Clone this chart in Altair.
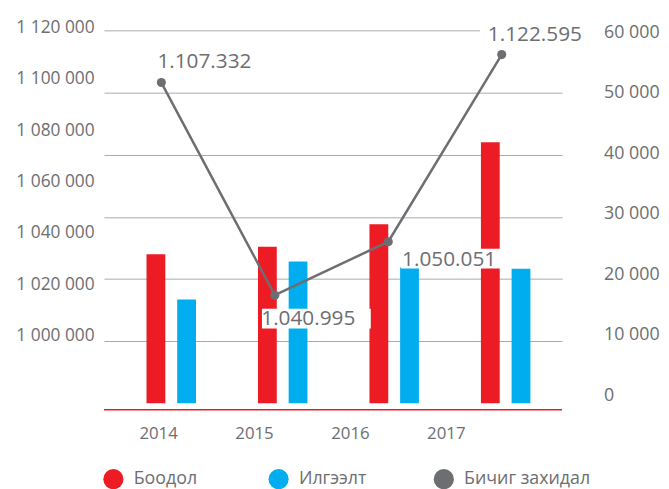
import altair as alt
import pandas as pd

# ---- data ----
years = ["2014", "2015", "2016", "2017"]
series_names = ["Боодол", "Илгээлт", "Бичиг захидал"]
boodol = [24000, 25200, 28800, 42000]          # red bars (right axis)
ilgeelt = [16700, 22800, 21850, 21650]         # blue bars (right axis)
bichig_values = [1107332, 1040995, 1050051, 1122595]   # labels of the grey line
bichig_height = [51600, 17400, 26000, 56100]   # height of the grey line as read on the right axis
left_ticks = [1000000, 1020000, 1040000, 1060000, 1080000, 1100000, 1120000]
right_ticks = [0, 10000, 20000, 30000, 40000, 50000, 60000]

RED, BLUE, GRAY = "#ed1c24", "#00aeef", "#6d6e71"
TEXT = "#6d6e71"
GRID = "#a7a9ac"
FONT = "Open Sans"

# label placement (style): text dx, text dy, white box xOffset, box yOffset, box width
LABEL_STYLE = {
    "2014": (-4, -21, 50, -21, 110),
    "2015": (-13.7, 24.3, 42, 23.8, 110),
    "2016": (14, 18.4, 67, 17, 108),
    "2017": (-14, -19.5, 33, -20, 110),
}

bars_df = pd.DataFrame({
    "year": years * 2,
    "series": [series_names[0]] * 4 + [series_names[1]] * 4,
    "value": boodol + ilgeelt,
})
line_df = pd.DataFrame({
    "year": years,
    "series": series_names[2],
    "height": bichig_height,
    "value": bichig_values,
})
left_df = pd.DataFrame({"v": left_ticks})
right_df = pd.DataFrame({"v": right_ticks})
year_df = pd.DataFrame({"year": years})

Y_DOMAIN = [0, 60000]

color = alt.Color(
    "series:N",
    scale=alt.Scale(domain=series_names, range=[RED, BLUE, GRAY]),
    legend=alt.Legend(
        title=None, orient="none", legendX=-1, legendY=443, direction="horizontal",
        symbolType="circle", symbolSize=415, symbolStrokeWidth=0, symbolOpacity=1,
        labelFont=FONT, labelFontSize=18, labelColor=TEXT, labelOffset=10,
        columnPadding=8, gridAlign="all", padding=0,
    ),
)


def xp(rng):
    return alt.X("year:N", scale=alt.Scale(type="point", domain=years, range=rng, padding=0), axis=None)


def yq(field, axis=None):
    return alt.Y(field, scale=alt.Scale(domain=Y_DOMAIN, nice=False), axis=axis)


bar_x = xp([68, 406])
line_x = xp([58, 402])

grid_axis = alt.Axis(orient="left", values=right_ticks[1:], grid=True, gridColor=GRID,
                     gridWidth=1, labels=False, ticks=False, domain=False, title=None)

# grid lines (no x encoding so they span the whole plot) + red base line
grid_and_base = alt.Chart(pd.DataFrame({"v": [0]})).mark_rule(
    color=RED, strokeWidth=1.5, yOffset=6.5
).encode(y=yq("v:Q", grid_axis))

bars_red = alt.Chart(bars_df).transform_filter(
    alt.datum.series == series_names[0]
).mark_bar(width=19, xOffset=-15.5).encode(
    x=bar_x, y=yq("value:Q"), color=color
)
bars_blue = alt.Chart(bars_df).transform_filter(
    alt.datum.series == series_names[1]
).mark_bar(width=19, xOffset=15.5).encode(
    x=bar_x, y=yq("value:Q"), color=color
)

line_base = alt.Chart(line_df).transform_calculate(
    label="replace(format(datum.value, ','), regexp(',', 'g'), '.')"
)

boxes, texts = [], []
for yr, (tdx, tdy, bx, by, bw) in LABEL_STYLE.items():
    sub = line_base.transform_filter(alt.datum.year == yr)
    boxes.append(sub.mark_rect(color="white", width=bw, height=20, xOffset=bx, yOffset=by)
                 .encode(x=line_x, y=yq("height:Q")))
    texts.append(sub.mark_text(align="left", baseline="middle", dx=tdx, dy=tdy,
                               font=FONT, fontSize=21, color=TEXT)
                 .encode(x=line_x, y=yq("height:Q"), text="label:N"))

line = line_base.mark_line(color=GRAY, strokeWidth=2.5).encode(x=line_x, y=yq("height:Q"))
points = line_base.mark_circle(color=GRAY, size=85, opacity=1).encode(x=line_x, y=yq("height:Q"))

left_axis = alt.Chart(left_df).mark_point(opacity=0).encode(
    y=alt.Y("v:Q",
            scale=alt.Scale(domain=[left_ticks[0], left_ticks[-1]], range=[308.7, -3], nice=False, zero=False),
            axis=alt.Axis(orient="left", values=left_ticks, grid=False, ticks=False, domain=False,
                          labelPadding=10, labelFont=FONT, labelFontSize=17.5, labelColor=TEXT,
                          title=None,
                          labelExpr="replace(format(datum.value, ','), regexp(',', 'g'), ' ')"))
)
right_axis = alt.Chart(right_df).mark_point(opacity=0).encode(
    y=alt.Y("v:Q",
            scale=alt.Scale(domain=[right_ticks[0], right_ticks[-1]], range=[368.7, 2], nice=False),
            axis=alt.Axis(orient="right", values=right_ticks, grid=False, ticks=False, domain=False,
                          labelPadding=42, labelFont=FONT, labelFontSize=18, labelColor=TEXT,
                          title=None,
                          labelExpr="replace(format(datum.value, ','), regexp(',', 'g'), ' ')"))
)
x_axis = alt.Chart(year_df).mark_point(opacity=0).encode(
    x=alt.X("year:N", scale=alt.Scale(type="point", domain=years, range=[54.7, 345.5], padding=0),
            axis=alt.Axis(orient="bottom", grid=False, ticks=False, domain=False, labelAngle=0,
                          labelPadding=23, labelFont=FONT, labelFontSize=17, labelColor=TEXT,
                          title=None))
)

chart = alt.layer(
    grid_and_base, bars_red, bars_blue, *boxes, line, points, *texts,
    left_axis, right_axis, x_axis,
).resolve_scale(
    x="independent", y="independent"
).properties(
    width=463, height=377,
    autosize=alt.AutoSizeParams(type="none"),
    padding={"left": 97, "top": 20, "right": 100, "bottom": 84},
).configure_view(stroke=None)

chart.save("out.html", embed_options={"renderer": "svg", "actions": False})
